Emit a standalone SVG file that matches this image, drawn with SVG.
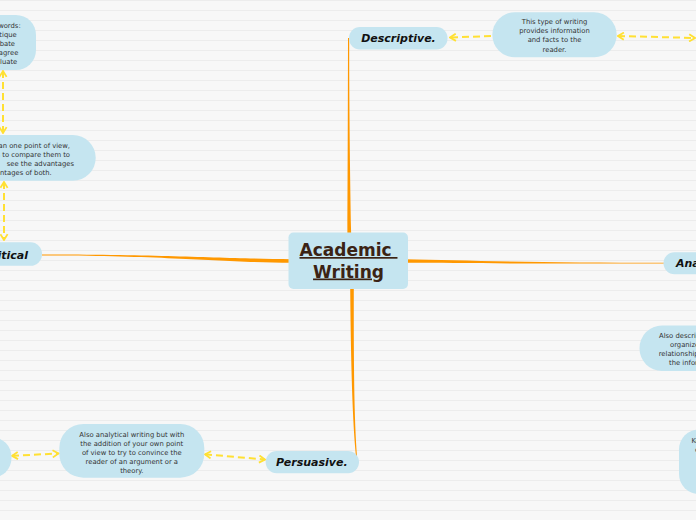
<svg xmlns="http://www.w3.org/2000/svg" width="696" height="520" viewBox="0 0 696 520">
<defs>
<pattern id="bgp" x="0" y="0" width="696" height="10" patternUnits="userSpaceOnUse">
<rect width="696" height="10" fill="#f7f7f7"/>
<line x1="0" y1="0.5" x2="696" y2="0.5" stroke="#ececec" stroke-width="1"/>
</pattern>
<marker id="chev" viewBox="0 0 10 10" refX="8.5" refY="5" markerWidth="9" markerHeight="9" markerUnits="userSpaceOnUse" orient="auto-start-reverse">
<path d="M2,1 L8.5,5 L2,9" fill="none" stroke="#ffe033" stroke-width="2"/>
</marker>
<style>
.node{fill:#c5e5f0}
.main{font-family:"DejaVu Sans",Verdana,sans-serif;font-weight:bold;font-style:italic;font-size:11px;fill:#111}
.desc{font-family:"DejaVu Sans",Verdana,sans-serif;font-size:6.8px;fill:#333}
.center{font-family:"DejaVu Sans",Verdana,sans-serif;font-weight:bold;font-size:17px;fill:#3b2314;text-decoration:underline;white-space:pre}
.dash{fill:none;stroke:#ffe033;stroke-width:2;stroke-dasharray:7 4}
.br{fill:#ff9800}
</style>
</defs>
<rect width="696" height="520" fill="url(#bgp)"/>

<g id="connectors">
<path class="br" d="M347.4,236 C347.8,150 348,80 348,38 L349.2,38 C349.2,80 349.6,150 351.2,236 Z"/>
<path class="br" d="M405,259.3 C470,260.8 550,262.6 664,262.7 L664,263.5 C550,263.6 470,263.4 405,262.8 Z"/>
<path class="br" d="M292,259.2 C220,258.6 170,254.5 42,254.5 L42,255.5 C170,255.6 220,262.4 292,262.8 Z"/>
<path class="br" d="M350.2,287 C351,380 353,430 356.6,462 L357.6,462 C354.6,430 353.6,380 353.8,287 Z"/>
<path class="dash" d="M491,36 L450,37.5" marker-end="url(#chev)"/>
<path class="dash" d="M618,36 L695,38" marker-start="url(#chev)" marker-end="url(#chev)"/>
<path class="dash" d="M3,71 L3,133" marker-start="url(#chev)" marker-end="url(#chev)"/>
<path class="dash" d="M4,182 L4,240" marker-start="url(#chev)" marker-end="url(#chev)"/>
<path class="dash" d="M12,455.8 L58.5,453.5" marker-start="url(#chev)" marker-end="url(#chev)"/>
<path class="dash" d="M205,454.3 L265,459.5" marker-start="url(#chev)" marker-end="url(#chev)"/>
</g>

<g id="center">
<rect class="node" x="288.5" y="232.5" width="119.5" height="56.5" rx="5"/>
<text class="center" x="348.5" y="256" text-anchor="middle">Academic </text>
<text class="center" x="348.5" y="277.5" text-anchor="middle">Writing</text>
</g>

<g id="descriptive">
<rect class="node" x="349" y="27" width="98.5" height="22.5" rx="11"/>
<text class="main" x="398.5" y="41.8" text-anchor="middle">Descriptive.</text>
</g>

<g id="descriptive-info">
<rect class="node" x="492.3" y="12.3" width="124.4" height="45" rx="22.5"/>
<text class="desc" x="554.5" y="24.2" text-anchor="middle">This type of writing</text>
<text class="desc" x="554.5" y="33.3" text-anchor="middle">provides information</text>
<text class="desc" x="554.5" y="42.4" text-anchor="middle">and facts to the</text>
<text class="desc" x="554.5" y="51.5" text-anchor="middle">reader.</text>
</g>

<g id="analytical">
<rect class="node" x="663.5" y="252.3" width="110" height="22" rx="11"/>
<text class="main" x="676" y="266.7">Analytical.</text>
</g>

<g id="analytical-info">
<rect class="node" x="639.5" y="325.5" width="116" height="45.5" rx="22.5"/>
<text class="desc" x="659" y="338">Also descriptive but</text>
<text class="desc" x="670" y="347">organizes the</text>
<text class="desc" x="658.7" y="356">relationships of</text>
<text class="desc" x="669" y="365">the information</text>
</g>

<g id="analytical-keywords">
<rect class="node" x="679" y="429.5" width="70" height="64.5" rx="20"/>
<text class="desc" x="710" y="442.5" text-anchor="middle">Key words:</text>
<text class="desc" x="710" y="451.5" text-anchor="middle">compare</text>
<text class="desc" x="710" y="464.5" text-anchor="middle">analyse</text>
</g>

<g id="critical">
<rect class="node" x="-40" y="242.3" width="82" height="23.5" rx="11.5"/>
<text class="main" x="28" y="258.6" text-anchor="end">Critical</text>
</g>

<g id="critical-info">
<rect class="node" x="-95" y="135" width="190.7" height="45.7" rx="22.8"/>
<text class="desc" x="70" y="147.5" text-anchor="end">Looks at more than one point of view,</text>
<text class="desc" x="70" y="156.5" text-anchor="end">and tries to compare them to</text>
<text class="desc" x="74" y="165.5" text-anchor="end">see the advantages</text>
<text class="desc" x="51.7" y="174.5" text-anchor="end">and disadvantages of both.</text>
</g>

<g id="critical-keywords">
<rect class="node" x="-34" y="15" width="70" height="55" rx="20"/>
<text class="desc" x="20.7" y="27.5" text-anchor="end">Key words:</text>
<text class="desc" x="16.7" y="36.5" text-anchor="end">Critique</text>
<text class="desc" x="15" y="45.5" text-anchor="end">Debate</text>
<text class="desc" x="18.3" y="54.5" text-anchor="end">Disagree</text>
<text class="desc" x="17.3" y="63.5" text-anchor="end">Evaluate</text>
</g>

<g id="persuasive">
<rect class="node" x="265.7" y="451" width="93.3" height="22.3" rx="11"/>
<text class="main" x="311.8" y="465.8" text-anchor="middle">Persuasive.</text>
</g>

<g id="persuasive-info">
<rect class="node" x="59.3" y="424" width="145" height="53.7" rx="24"/>
<text class="desc" x="131.8" y="436.5" text-anchor="middle">Also analytical writing but with</text>
<text class="desc" x="131.8" y="445.5" text-anchor="middle">the addition of your own point</text>
<text class="desc" x="131.8" y="454.5" text-anchor="middle">of view to try to convince the</text>
<text class="desc" x="131.8" y="463.5" text-anchor="middle">reader of an argument or a</text>
<text class="desc" x="131.8" y="472.5" text-anchor="middle">theory.</text>
</g>

<g id="persuasive-keywords">
<rect class="node" x="-60" y="437" width="71.5" height="41" rx="20"/>
</g>
</svg>
